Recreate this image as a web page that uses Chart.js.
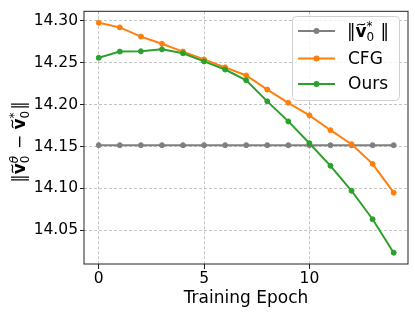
<!DOCTYPE html>
<html>
<head>
<meta charset="utf-8">
<script src="https://cdn.jsdelivr.net/npm/chart.js@4"></script>
<style>
  html, body { margin: 0; padding: 0; background: #fff; }
  #wrap { width: 415px; height: 314px; }
</style>
</head>
<body>
<div id="wrap"><canvas id="chartEpoch" width="415" height="314"></canvas></div>
<script>
var epochs = [0, 1, 2, 3, 4, 5, 6, 7, 8, 9, 10, 11, 12, 13, 14];
var normValues = [14.1516, 14.1516, 14.1516, 14.1516, 14.1516, 14.1516, 14.1516, 14.1516, 14.1516, 14.1516, 14.1516, 14.1516, 14.1516, 14.1516, 14.1516];
var cfgValues = [14.2977, 14.2922, 14.2812, 14.2727, 14.2633, 14.2540, 14.2445, 14.2348, 14.2180, 14.2022, 14.1872, 14.1695, 14.1528, 14.1293, 14.0949];
var oursValues = [14.2559, 14.2633, 14.2637, 14.2660, 14.2613, 14.2516, 14.2419, 14.2290, 14.2039, 14.1800, 14.1540, 14.1270, 14.0972, 14.0632, 14.0233];
var xTicks = [0, 5, 10];
var yTicks = [14.05, 14.10, 14.15, 14.20, 14.25, 14.30];
var xTitle = 'Training Epoch';

var FONT = 'DejaVu Sans';

function pts(values) {
	return epochs.map(function (e, i) { return { x: e, y: values[i] }; });
}

// little mathtext-ish renderer: runs of text, bold v with tilde, stacked sub/sup
function mathWidth(ctx, parts, size) {
	var w = 0;
	parts.forEach(function (p) {
		if (p.sub !== undefined) {
			ctx.font = Math.round(size * 0.7) + 'px ' + FONT;
			var a = ctx.measureText(p.sub).width;
			ctx.font = 'italic ' + Math.round(size * 0.7) + 'px ' + FONT;
			var b = ctx.measureText(p.sup).width;
			w += Math.max(a, b) + 1;
		} else {
			ctx.font = (p.bold ? 'bold ' : '') + size + 'px ' + FONT;
			w += ctx.measureText(p.t).width;
		}
	});
	return w;
}

function drawMath(ctx, x, y, parts, size) {
	ctx.fillStyle = '#000';
	ctx.strokeStyle = '#000';
	ctx.textBaseline = 'alphabetic';
	ctx.textAlign = 'left';
	parts.forEach(function (p) {
		if (p.sub !== undefined) {
			var s = Math.round(size * 0.7);
			ctx.font = s + 'px ' + FONT;
			var a = ctx.measureText(p.sub).width;
			ctx.fillText(p.sub, x, y + size * 0.22);
			ctx.font = (p.sup === '*' ? '' : 'italic ') + s + 'px ' + FONT;
			var b = ctx.measureText(p.sup).width;
			ctx.fillText(p.sup, x, y - size * 0.42);
			x += Math.max(a, b) + 1;
		} else {
			ctx.font = (p.bold ? 'bold ' : '') + size + 'px ' + FONT;
			var w = ctx.measureText(p.t).width;
			ctx.fillText(p.t, x, y);
			if (p.tilde) {
				var cx = x + w / 2, ty = y - size * 0.74;
				ctx.beginPath();
				ctx.lineWidth = 1.1;
				ctx.moveTo(cx - 4, ty + 1);
				ctx.bezierCurveTo(cx - 2, ty - 2.5, cx + 2, ty + 2.5, cx + 4, ty - 1);
				ctx.stroke();
			}
			x += w;
		}
	});
}

var yTitleParts = [
	{ t: '‖' }, { t: 'v', bold: true, tilde: true }, { sub: '0', sup: 'θ' },
	{ t: ' − ' }, { t: 'v', bold: true, tilde: true }, { sub: '0', sup: '*' }, { t: '‖' }
];
var normLabelParts = [
	{ t: '‖' }, { t: 'v', bold: true, tilde: true }, { sub: '0', sup: '*' }, { t: ' ‖' }
];

var framePlugin = {
	id: 'frame',
	afterDatasetsDraw: function (chart) {
		var ctx = chart.ctx, a = chart.chartArea;
		ctx.save();
		ctx.strokeStyle = '#222';
		ctx.lineWidth = 1;
		ctx.strokeRect(a.left, a.top, a.right - a.left, a.bottom - a.top);
		ctx.restore();
	}
};

var titlesPlugin = {
	id: 'titles',
	afterDraw: function (chart) {
		var ctx = chart.ctx, a = chart.chartArea;
		ctx.save();
		ctx.font = '17px ' + FONT;
		ctx.fillStyle = '#000';
		ctx.textAlign = 'center';
		ctx.textBaseline = 'middle';
		ctx.fillText(xTitle, (a.left + a.right) / 2, 299);
		ctx.restore();

		ctx.save();
		ctx.translate(25, 142);
		ctx.rotate(-Math.PI / 2);
		var w = mathWidth(ctx, yTitleParts, 17);
		drawMath(ctx, -w / 2, 0, yTitleParts, 17);
		ctx.restore();
	}
};

var legendPlugin = {
	id: 'boxLegend',
	afterDraw: function (chart) {
		var ctx = chart.ctx;
		ctx.save();
		ctx.beginPath();
		ctx.roundRect(292.5, 16.5, 107, 84, 4);
		ctx.fillStyle = 'rgba(255,255,255,0.8)';
		ctx.fill();
		ctx.strokeStyle = '#d0d0d0';
		ctx.lineWidth = 1;
		ctx.stroke();
		var rows = [
			{ ds: 2, y: 31 },
			{ ds: 1, y: 58.5 },
			{ ds: 0, y: 84 }
		];
		rows.forEach(function (r) {
			var d = chart.data.datasets[r.ds];
			ctx.strokeStyle = d.borderColor;
			ctx.lineWidth = 2;
			ctx.beginPath();
			ctx.moveTo(298, r.y);
			ctx.lineTo(335, r.y);
			ctx.stroke();
			ctx.fillStyle = d.borderColor;
			ctx.beginPath();
			ctx.arc(316.5, r.y, 3, 0, Math.PI * 2);
			ctx.fill();
			if (d.label === 'norm') {
				drawMath(ctx, 347, r.y + 6, normLabelParts, 17);
			} else {
				ctx.font = '17px ' + FONT;
				ctx.fillStyle = '#000';
				ctx.textAlign = 'left';
				ctx.textBaseline = 'middle';
				ctx.fillText(d.label, 348, r.y + 1);
			}
		});
		ctx.restore();
	}
};

var lineStyle = function (color) {
	return {
		borderColor: color,
		backgroundColor: color,
		borderWidth: 2,
		pointRadius: 2.5,
		pointBorderWidth: 1,
		pointBackgroundColor: color,
		pointBorderColor: color,
		fill: false,
		tension: 0
	};
};

var ctx = document.getElementById('chartEpoch').getContext('2d');
var chart = new Chart(ctx, {
	type: 'line',
	data: {
		datasets: [
			Object.assign({ label: 'Ours', data: pts(oursValues), order: 0 }, lineStyle('#2ca02c')),
			Object.assign({ label: 'CFG', data: pts(cfgValues), order: 1 }, lineStyle('#ff7f0e')),
			Object.assign({ label: 'norm', data: pts(normValues), order: 2 }, lineStyle('#7f7f7f'))
		]
	},
	options: {
		responsive: false,
		animation: false,
		devicePixelRatio: 1,
		layout: { padding: { left: 0, right: 7, top: 7, bottom: 0 } },
		plugins: {
			legend: { display: false },
			tooltip: { enabled: false }
		},
		scales: {
			x: {
				type: 'linear',
				min: -0.7,
				max: 14.68,
				afterBuildTicks: function (s) { s.ticks = xTicks.map(function (v) { return { value: v }; }); },
				afterFit: function (s) { s.height = 50; },
				ticks: {
					font: { family: FONT, size: 15.5 },
					color: '#000',
					padding: 1,
					maxRotation: 0
				},
				grid: {
					color: 'rgba(176,176,176,0.75)',
					lineWidth: 1,
					tickColor: '#222',
					tickLength: 5,
					tickWidth: 1
				},
				border: { display: false, dash: [3, 2] }
			},
			y: {
				type: 'linear',
				min: 14.0098,
				max: 14.3114,
				afterBuildTicks: function (s) { s.ticks = yTicks.map(function (v) { return { value: v }; }); },
				afterFit: function (s) { s.width = 84; },
				ticks: {
					font: { family: FONT, size: 15.5 },
					color: '#000',
					padding: 2,
					callback: function (v) { return v.toFixed(2); }
				},
				grid: {
					color: 'rgba(176,176,176,0.75)',
					lineWidth: 1,
					tickColor: '#222',
					tickLength: 4,
					tickWidth: 1
				},
				border: { display: false, dash: [3, 2] }
			}
		}
	},
	plugins: [framePlugin, titlesPlugin, legendPlugin]
});
</script>
</body>
</html>
